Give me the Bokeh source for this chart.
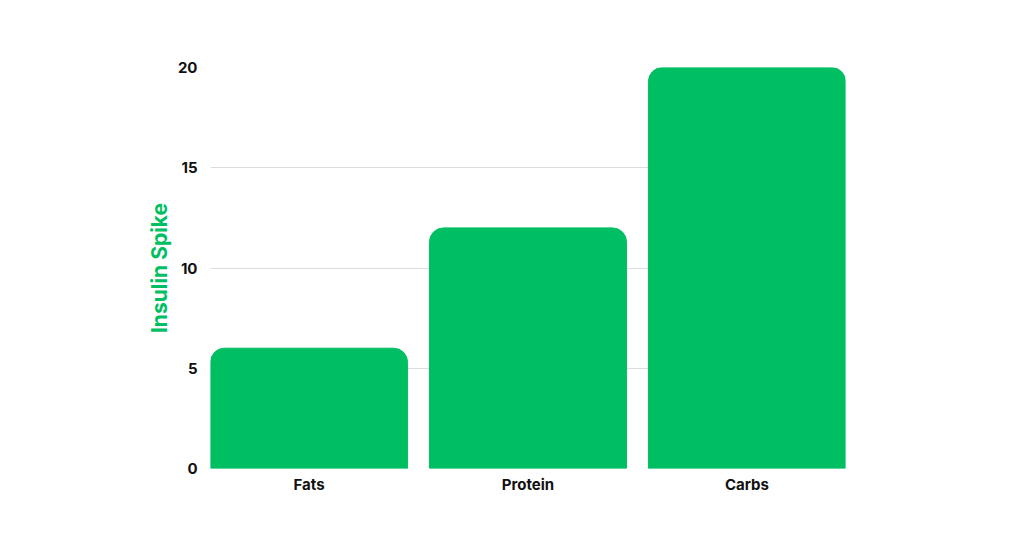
from bokeh.plotting import figure
from bokeh.models import FixedTicker
from bokeh.embed import file_html
from bokeh.resources import INLINE

# data
categories = ["Fats", "Protein", "Carbs"]
insulin_spike = [6, 12, 20]
y_ticks = [0, 5, 10, 15, 20]

bar_green = "#00bf63"

p = figure(x_range=categories, y_range=(0, 20),
           frame_width=635, frame_height=401,
           min_border_left=210, min_border_right=171,
           min_border_top=67, min_border_bottom=60,
           output_backend="svg", toolbar_location=None)

# outer bars touch the frame edges, gaps only between bars
p.x_range.range_padding = -0.05
p.x_range.range_padding_units = "absolute"

p.vbar(x=categories, top=insulin_spike, width=0.9, color=bar_green,
       border_radius=(14, 14, 0, 0))

# axes
p.outline_line_color = None
p.xgrid.grid_line_color = None
p.ygrid.grid_line_color = "#dcdcdc"
p.ygrid.grid_line_width = 1
p.yaxis.ticker = FixedTicker(ticks=y_ticks)
for ax in (p.xaxis, p.yaxis):
    ax.axis_line_color = None
    ax.major_tick_line_color = None
    ax.minor_tick_line_color = None
    ax.major_label_text_font = "Inter"
    ax.major_label_text_font_style = "bold"
    ax.major_label_text_font_size = "15px"
    ax.major_label_text_color = "#111111"
p.yaxis.major_label_standoff = 7
p.xaxis.major_label_standoff = 0

p.yaxis.axis_label = "Insulin Spike"
p.yaxis.axis_label_text_font = "Inter"
p.yaxis.axis_label_text_font_style = "bold"
p.yaxis.axis_label_text_font_size = "21px"
p.yaxis.axis_label_text_color = bar_green
p.yaxis.axis_label_standoff = 3

open("out.html", "w").write(file_html(p, INLINE))
